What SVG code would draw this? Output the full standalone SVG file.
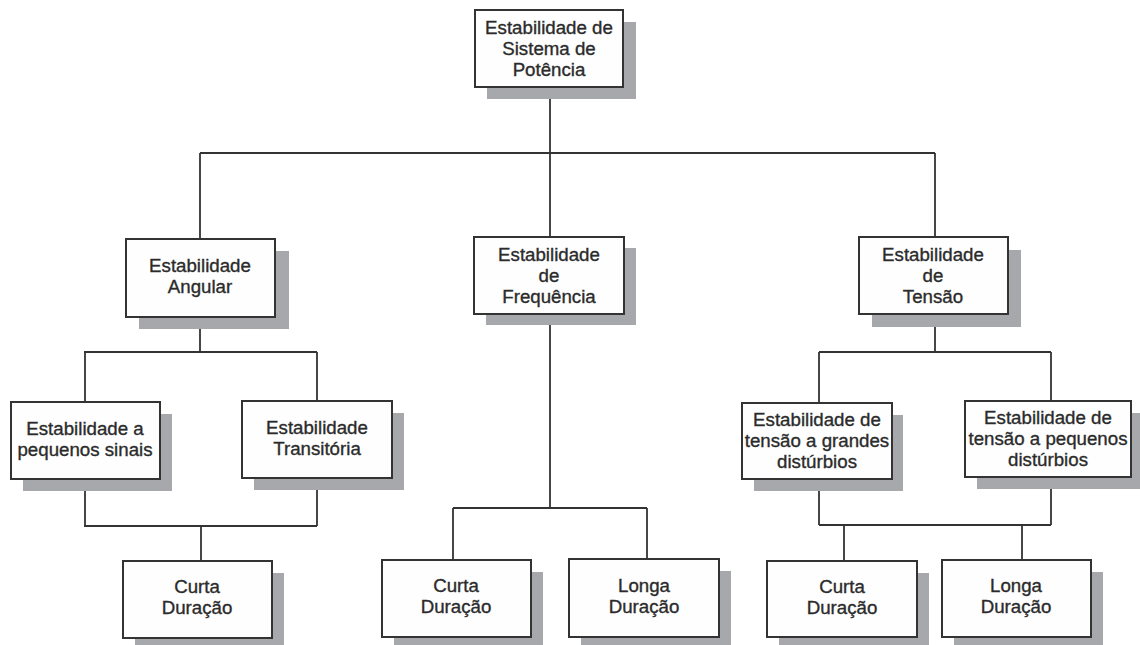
<svg xmlns="http://www.w3.org/2000/svg" width="1140" height="645" viewBox="0 0 1140 645">
  <style>
    .shadow { fill: #a7a8ab; }
    .box { fill: #fefefe; stroke: #333333; stroke-width: 2; }
    .lbl { font-family: "Liberation Sans", Arial, sans-serif; font-size: 18.7px; fill: #2b2b2b; stroke: #2b2b2b; stroke-width: 0.35; text-anchor: middle; }
    .wire { fill: none; stroke: #333333; stroke-width: 1.8; }
  </style>
  <rect width="1140" height="645" fill="#ffffff"/>

  <!-- connectors -->
  <g id="connectors" class="wire">
    <path d="M550 87 V153 M200 153 H935 M200 153 V239 M550 153 V237 M935 153 V237"/>
    <path d="M200 317 V352 M84 352 H317 M85 352 V402 M317 352 V401"/>
    <path d="M85 479 V526 M317 478 V526 M84 526 H317 M201 526 V561"/>
    <path d="M550 314 V508 M453 508 H647 M453 508 V560 M647 508 V559"/>
    <path d="M935 314 V352 M819 352 H1051 M819 352 V403 M1051 352 V401"/>
    <path d="M819 479 V525 M1051 477 V525 M819 525 H1051 M844 525 V561 M1022 525 V560"/>
  </g>

  <!-- nodes -->
  <g id="n-root">
    <rect class="shadow" x="487" y="22" width="149" height="77"/>
    <rect class="box" x="475" y="10" width="148" height="77"/>
    <text class="lbl" x="549" y="34"><tspan x="549">Estabilidade de</tspan><tspan x="549" dy="21">Sistema de</tspan><tspan x="549" dy="21">Potência</tspan></text>
  </g>

  <g id="n-angular">
    <rect class="shadow" x="139" y="251" width="150" height="78"/>
    <rect class="box" x="126" y="239" width="149" height="78"/>
    <text class="lbl" x="200" y="272"><tspan x="200">Estabilidade</tspan><tspan x="200" dy="21">Angular</tspan></text>
  </g>

  <g id="n-frequencia">
    <rect class="shadow" x="486" y="248" width="150" height="77"/>
    <rect class="box" x="474" y="237" width="150" height="77"/>
    <text class="lbl" x="549" y="261"><tspan x="549">Estabilidade</tspan><tspan x="549" dy="21">de</tspan><tspan x="549" dy="21">Frequência</tspan></text>
  </g>

  <g id="n-tensao">
    <rect class="shadow" x="872" y="250" width="149" height="77"/>
    <rect class="box" x="859" y="237" width="149" height="77"/>
    <text class="lbl" x="933" y="261"><tspan x="933">Estabilidade</tspan><tspan x="933" dy="21">de</tspan><tspan x="933" dy="21">Tensão</tspan></text>
  </g>

  <g id="n-pequenos-sinais">
    <rect class="shadow" x="23" y="414" width="149" height="77"/>
    <rect class="box" x="11" y="402" width="149" height="77"/>
    <text class="lbl" x="85" y="435"><tspan x="85">Estabilidade a</tspan><tspan x="85" dy="21">pequenos sinais</tspan></text>
  </g>

  <g id="n-transitoria">
    <rect class="shadow" x="254" y="413" width="150" height="77"/>
    <rect class="box" x="242" y="401" width="150" height="77"/>
    <text class="lbl" x="317" y="434"><tspan x="317">Estabilidade</tspan><tspan x="317" dy="21">Transitória</tspan></text>
  </g>

  <g id="n-grandes-disturbios">
    <rect class="shadow" x="754" y="415" width="149" height="76"/>
    <rect class="box" x="742" y="403" width="150" height="76"/>
    <text class="lbl" x="817" y="426"><tspan x="817">Estabilidade de</tspan><tspan x="817" dy="21">tensão a grandes</tspan><tspan x="817" dy="21">distúrbios</tspan></text>
  </g>

  <g id="n-pequenos-disturbios">
    <rect class="shadow" x="977" y="413" width="166" height="76"/>
    <rect class="box" x="965" y="401" width="166" height="76"/>
    <text class="lbl" x="1048" y="424"><tspan x="1048">Estabilidade de</tspan><tspan x="1048" dy="21">tensão a pequenos</tspan><tspan x="1048" dy="21">distúrbios</tspan></text>
  </g>

  <g id="n-angular-curta">
    <rect class="shadow" x="135" y="573" width="149" height="77"/>
    <rect class="box" x="123" y="561" width="149" height="77"/>
    <text class="lbl" x="197" y="593"><tspan x="197">Curta</tspan><tspan x="197" dy="21">Duração</tspan></text>
  </g>

  <g id="n-freq-curta">
    <rect class="shadow" x="394" y="572" width="149" height="77"/>
    <rect class="box" x="382" y="560" width="149" height="77"/>
    <text class="lbl" x="456" y="592"><tspan x="456">Curta</tspan><tspan x="456" dy="21">Duração</tspan></text>
  </g>

  <g id="n-freq-longa">
    <rect class="shadow" x="581" y="571" width="150" height="78"/>
    <rect class="box" x="569" y="559" width="150" height="78"/>
    <text class="lbl" x="644" y="592"><tspan x="644">Longa</tspan><tspan x="644" dy="21">Duração</tspan></text>
  </g>

  <g id="n-tensao-curta">
    <rect class="shadow" x="779" y="573" width="150" height="76"/>
    <rect class="box" x="767" y="561" width="150" height="76"/>
    <text class="lbl" x="842" y="593"><tspan x="842">Curta</tspan><tspan x="842" dy="21">Duração</tspan></text>
  </g>

  <g id="n-tensao-longa">
    <rect class="shadow" x="954" y="572" width="149" height="77"/>
    <rect class="box" x="942" y="560" width="149" height="77"/>
    <text class="lbl" x="1016" y="592"><tspan x="1016">Longa</tspan><tspan x="1016" dy="21">Duração</tspan></text>
  </g>
</svg>
